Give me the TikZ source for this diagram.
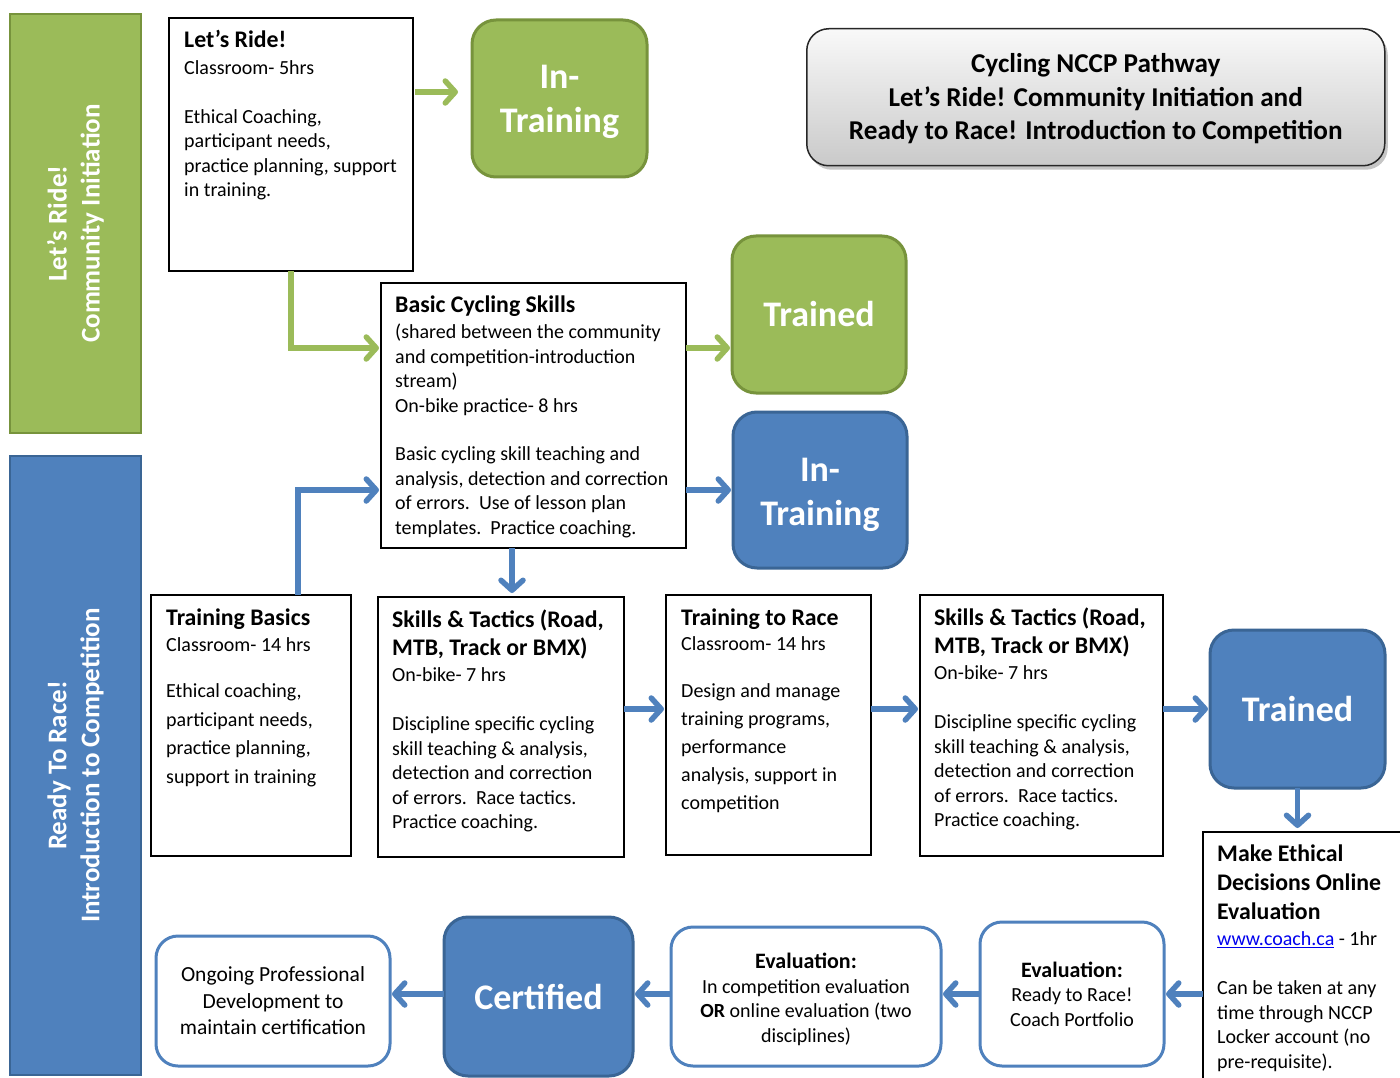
\documentclass[tikz,border=0pt]{standalone}
\usepackage{fontspec}
\setmainfont{Carlito}
\usetikzlibrary{arrows.meta,calc,shadows}
\definecolor{grn}{HTML}{9BBB59}
\definecolor{grnD}{HTML}{77933C}
\definecolor{blu}{HTML}{4F81BD}
\definecolor{bluD}{HTML}{3A6595}
\definecolor{linkblue}{HTML}{0000EE}
\newcommand{\boxhead}[1]{{\fontsize{23.8}{28}\selectfont\bfseries #1}}
\begin{document}
\begin{tikzpicture}[x=1pt,y=-1pt,
  box/.style={draw=black,line width=1.8pt,fill=white,anchor=north west,inner sep=0pt,outer sep=0pt},
  gbox/.style={draw=grnD,line width=3pt,fill=grn,rounded corners=24pt,anchor=north west,inner sep=0pt,outer sep=0pt,text=white,align=center,font=\fontsize{36}{44}\selectfont\bfseries},
  bbox/.style={draw=bluD,line width=3pt,fill=blu,rounded corners=24pt,anchor=north west,inner sep=0pt,outer sep=0pt,text=white,align=center,font=\fontsize{36}{44}\selectfont\bfseries},
  wbox/.style={draw=blu,line width=3pt,fill=white,rounded corners=22pt,anchor=north west,inner sep=0pt,outer sep=0pt,align=center,font=\fontsize{20}{24.5}\selectfont},
  lbl/.style={anchor=north west,inner sep=0pt,align=left,font=\fontsize{20}{24.4}\selectfont},
  sidebar/.style={line width=2.5pt,anchor=north west,inner sep=0pt,outer sep=0pt,minimum width=131},
  sidetext/.style={rotate=90,text=white,align=center,font=\fontsize{27}{33}\selectfont\bfseries},
  garr/.style={draw=grn,line width=5.5pt,-{Straight Barb[length=10pt,width=22pt,line join=round,line cap=round]}},
  barr/.style={draw=blu,line width=5.5pt,-{Straight Barb[length=10pt,width=22pt,line join=round,line cap=round]}}
]
\useasboundingbox (0,0) rectangle (1400,1078);
\clip (0,0) rectangle (1400,1078);
\fill[white] (0,0) rectangle (1400,1078);

% side bars
\node[sidebar,draw=grnD,fill=grn,minimum height=419] (sg) at (10,14) {};
\node[sidetext] (sgt) at (sg.center) {Let’s Ride!\\Community Initiation};
\node[sidebar,draw=bluD,fill=blu,minimum height=619] (sb) at (10,456) {};
\node[sidetext] (sbt) at (sb.center) {Ready To Race!\\Introduction to Competition};

% title
\node[draw=black!85,line width=1.5pt,rounded corners=22pt,top color=gray!5,bottom color=gray!42,
      drop shadow={shadow xshift=3pt,shadow yshift=-4pt,fill=black!45},
      anchor=north west,inner sep=0pt,minimum width=578,minimum height=137,align=center,
      font=\fontsize{27.2}{33.5}\selectfont\bfseries] (title) at (806,28)
      {\rule{0pt}{22pt}Cycling NCCP Pathway\\Let’s Ride! Community Initiation and\\Ready to Race! Introduction to Competition};

% text boxes
\node[box,minimum width=244,minimum height=253] (lr) at (169,18) {};
\node[lbl] (lrt) at (184,30) {\boxhead{Let’s Ride!}\\[2.6pt]Classroom- 5hrs\\[24.4pt]Ethical Coaching,\\participant needs,\\practice planning, support\\in training.};

\node[box,minimum width=305,minimum height=265] (bcs) at (381,283) {};
\node[lbl] (bcst) at (395,296) {\boxhead{Basic Cycling Skills}\\[1.6pt](shared between the community\\and competition-introduction\\stream)\\On-bike practice- 8 hrs\\[24.4pt]Basic cycling skill teaching and\\analysis, detection and correction\\of errors.\ \ Use of lesson plan\\templates.\ \ Practice coaching.};

\node[box,minimum width=200,minimum height=261] (tb) at (151,595) {};
\node[lbl,font=\fontsize{20}{28.5}\selectfont] (tbt) at (166,609) {\boxhead{Training Basics}\\[-2.5pt]Classroom- 14 hrs\\[17.5pt]Ethical coaching,\\participant needs,\\practice planning,\\support in training};

\node[box,minimum width=246,minimum height=260] (sk1) at (378,597) {};
\node[lbl,font=\fontsize{20}{24.5}\selectfont] (sk1t) at (392,610) {\boxhead{Skills \& Tactics (Road,}\\[3.5pt]\boxhead{MTB, Track or BMX)}\\[1.5pt]On-bike- 7 hrs\\[24.5pt]Discipline specific cycling\\skill teaching \& analysis,\\detection and correction\\of errors.\ \ Race tactics.\\Practice coaching.};

\node[box,minimum width=205,minimum height=260] (ttr) at (666,595) {};
\node[lbl,font=\fontsize{20}{28}\selectfont] (ttrt) at (681,609) {\boxhead{Training to Race}\\[-3pt]Classroom- 14 hrs\\[19pt]Design and manage\\training programs,\\performance\\analysis, support in\\competition};

\node[box,minimum width=243,minimum height=261] (sk2) at (920,595) {};
\node[lbl,font=\fontsize{20}{24.5}\selectfont] (sk2t) at (934,608) {\boxhead{Skills \& Tactics (Road,}\\[3.5pt]\boxhead{MTB, Track or BMX)}\\[1.5pt]On-bike- 7 hrs\\[24.5pt]Discipline specific cycling\\skill teaching \& analysis,\\detection and correction\\of errors.\ \ Race tactics.\\Practice coaching.};

\node[box,minimum width=215,minimum height=265] (me) at (1203,832) {};
\node[lbl,font=\fontsize{20}{24.5}\selectfont] (met) at (1217,845) {\boxhead{Make Ethical}\\[4.5pt]\boxhead{Decisions Online}\\[4.5pt]\boxhead{Evaluation}\\[1.5pt]{\color{linkblue}\underline{www.coach.ca}} - 1hr\\[24.5pt]Can be taken at any\\time through NCCP\\Locker account (no\\pre-requisite).};

% rounded status boxes
\node[gbox,minimum width=175,minimum height=157] (git) at (472,20) {\rule{0pt}{31pt}In-\\Training};
\node[gbox,minimum width=174,minimum height=157] (gtr) at (732,236) {Trained};
\node[bbox,minimum width=174,minimum height=156] (bit) at (733,412) {\rule{0pt}{33pt}In-\\Training};
\node[bbox,minimum width=175,minimum height=158] (btr) at (1210,630) {Trained};
\node[bbox,minimum width=189,minimum height=159] (cert) at (444,917) {Certified};

\node[wbox,minimum width=184,minimum height=144] (ertr) at (980,922) {{\fontsize{22}{26}\selectfont\bfseries Evaluation:}\\Ready to Race!\\Coach Portfolio};
\node[wbox,minimum width=270,minimum height=139] (ev2) at (671,927) {\rule{0pt}{21pt}{\fontsize{22}{26}\selectfont\bfseries Evaluation:}\\In competition evaluation\\\textbf{OR} online evaluation (two\\disciplines)};
\node[wbox,minimum width=234,minimum height=130,font=\fontsize{21.5}{26.5}\selectfont] (og) at (156,936) {Ongoing Professional\\Development to\\maintain certification};

% green connectors
\coordinate (ga) at ([yshift=6.5pt]git.west);
\draw[garr,shorten >=14pt,shorten <=2pt] (ga -| lr.east) -- (ga);
\coordinate (gb) at ([yshift=67.5pt]bcs.west);
\draw[garr,shorten >=2pt] (lr.south) |- (gb);
\coordinate (gc) at ([yshift=67.5pt]bcs.east);
\draw[garr,shorten >=2pt] (gc) -- (gc -| gtr.west);

% blue connectors
\draw[barr,shorten >=2pt] (bcs.east |- bit.west) -- (bit.west);
\coordinate (ba) at ([xshift=47pt]tb.north);
\draw[barr,shorten >=2pt] (ba) |- (bcs.west |- bit.west);
\coordinate (bb) at ([xshift=-21.5pt]bcs.south);
\draw[barr,shorten >=4pt] (bb) -- (bb |- sk1.north);
\draw[barr,shorten >=2pt] (sk1.east |- btr.west) -- (ttr.west |- btr.west);
\draw[barr,shorten >=2pt] (ttr.east |- btr.west) -- (sk2.west |- btr.west);
\draw[barr,shorten >=2pt] (sk2.east |- btr.west) -- (btr.west);
\draw[barr,shorten >=4pt] (btr.south) -- (btr.south |- me.north);
\draw[barr,shorten >=2pt] (me.west |- ertr.east) -- (ertr.east);
\draw[barr,shorten >=2pt] (ertr.west) -- (ertr.west -| ev2.east);
\draw[barr,shorten >=2pt] (ev2.west |- ertr.west) -- (cert.east |- ertr.west);
\draw[barr,shorten >=2pt] (cert.west |- ertr.west) -- (og.east |- ertr.west);
\end{tikzpicture}
\end{document}
